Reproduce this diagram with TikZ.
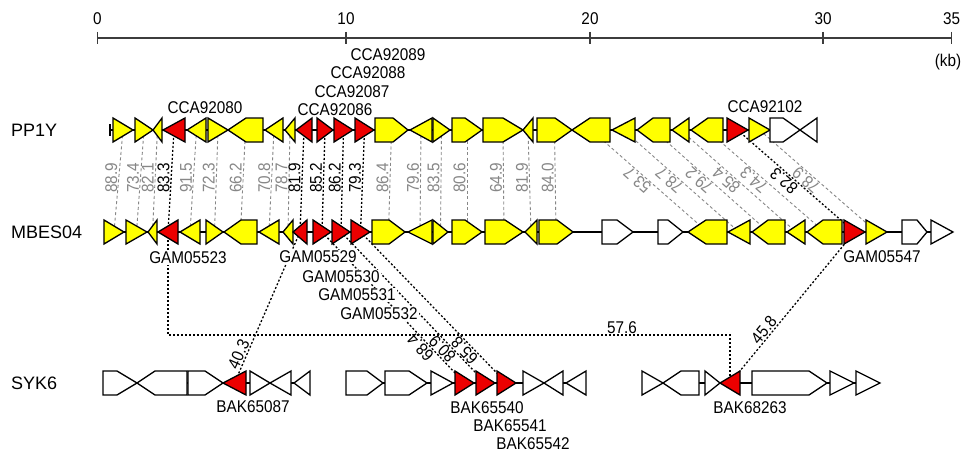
\documentclass[tikz,border=0pt]{standalone}
\usepackage{fontspec}
\setmainfont{Liberation Sans}[FakeStretch=0.9]
\newfontfamily\rowfont{Liberation Sans}
\usetikzlibrary{calc}
\pgfdeclarelayer{bg}
\pgfdeclarelayer{paper}
\pgfsetlayers{paper,bg,main}
\definecolor{gyel}{RGB}{255,255,0}
\definecolor{gred}{RGB}{236,0,0}
\definecolor{lgray}{RGB}{135,135,135}
\definecolor{bargray}{RGB}{60,60,60}
\newcommand\rowy{130}
% right-pointing gene: name, x1, x2, body end, fill
\newcommand\geneR[5]{\filldraw[genebox,fill=#5] (#2,\rowy-12) -- (#4,\rowy-12) -- (#3,\rowy) -- (#4,\rowy+12) -- (#2,\rowy+12) -- cycle;
  \coordinate (#1) at ({(#2+#3)/2},\rowy);}
% left-pointing gene: name, x1 (tip), x2, body start, fill
\newcommand\geneL[5]{\filldraw[genebox,fill=#5] (#3,\rowy-12) -- (#4,\rowy-12) -- (#2,\rowy) -- (#4,\rowy+12) -- (#3,\rowy+12) -- cycle;
  \coordinate (#1) at ({(#2+#3)/2},\rowy);}
\begin{document}
\begin{tikzpicture}[x=1pt,y=-1pt,
  genebox/.style={draw=black,line width=1.3pt,line join=miter},
  backbone/.style={draw=black,line width=1.2pt},
  gline/.style={draw=lgray,line width=0.9pt,dash pattern=on 3pt off 2.5pt},
  bline/.style={draw=black,line width=1.3pt,dash pattern=on 2pt off 2pt},
  glab/.style={font=\fontsize{17}{17}\selectfont,fill=white,inner sep=1pt},
  clab/.style={font=\fontsize{17}{17}\selectfont,inner sep=1pt},
  pct/.style={font=\fontsize{17}{17}\selectfont,inner sep=1pt,anchor=south},
  rowlab/.style={font=\rowfont\fontsize{18}{18}\selectfont,anchor=west,inner sep=0pt},
  scl/.style={font=\fontsize{17}{17}\selectfont,inner sep=0pt}]
\useasboundingbox (0,0) rectangle (969,452);
\begin{pgfonlayer}{paper}
\fill[white] (0,0) rectangle (969,452);
\end{pgfonlayer}
% ---------------- scale bar
\coordinate (t0) at (97.5,38);
\coordinate (t10) at (346,38);
\coordinate (t20) at (590,38);
\coordinate (t30) at (823,38);
\coordinate (t35) at (951.5,38);
\draw[bargray,line width=1.2pt] (t0) -- (t35);
\foreach \t/\l in {t0/0,t10/10,t20/20,t30/30,t35/35}{
  \draw[bargray,line width=1.2pt] ($(\t)+(0,-6)$) -- ($(\t)+(0,6)$);
  \node[scl] (s\l) at ($(\t)+(0,-19)$) {\l};
}
\node[scl] (kb) at (948,62) {(kb)};
% ---------------- row labels
\node[rowlab] (rP) at (11,130) {PP1Y};
\node[rowlab] (rM) at (11,232) {MBES04};
\node[rowlab] (rS) at (11,383) {SYK6};
% ---------------- PP1Y
\renewcommand\rowy{130}
\draw[backbone] (110,130) -- (817,130);
\draw[backbone] (110,124) -- (110,136);
\geneR{P1}{113}{133}{113}{gyel}
\geneR{P2}{135}{153}{135}{gyel}
\geneL{P3}{153}{162}{162}{gyel}
\geneL{P4}{163}{185}{185}{gred}
\geneL{P5}{187}{206}{206}{gyel}
\geneR{P6}{208}{228}{208}{gyel}
\geneL{P7}{228}{263}{246}{gyel}
\geneL{P8}{265}{283}{283}{gyel}
\geneL{P9}{285}{295}{295}{gyel}
\geneL{P10}{296}{312}{312}{gred}
\geneR{P11}{317}{333}{317}{gred}
\geneR{P12}{334}{353}{334}{gred}
\geneR{P13}{355}{374}{355}{gred}
\geneR{P14}{375}{408}{393}{gyel}
\geneL{P15}{410}{432}{432}{gyel}
\geneR{P16}{433}{450}{433}{gyel}
\geneR{P17}{452}{482}{465}{gyel}
\geneR{P18}{483}{523}{503}{gyel}
\geneL{P19}{523}{533}{533}{gyel}
\geneR{P20}{537}{572}{555}{gyel}
\geneL{P21}{572}{610}{590}{gyel}
\geneL{P22}{612}{635}{635}{gyel}
\geneL{P23}{637}{670}{653}{gyel}
\geneL{P24}{672}{689}{689}{gyel}
\geneL{P25}{691}{723}{708}{gyel}
\geneR{P26}{727}{748}{727}{gred}
\geneR{P27}{749}{770}{749}{gyel}
\geneR{P28}{770}{800}{783}{white}
\geneL{P29}{800}{817}{817}{white}
% ---------------- MBES04
\renewcommand\rowy{232}
\draw[backbone] (104,232) -- (953,232);
\geneR{M1}{104}{124}{104}{gyel}
\geneR{M2}{126}{147}{126}{gyel}
\geneL{M3}{148}{157}{157}{gyel}
\geneL{M4}{158}{178}{178}{gred}
\geneL{M5}{180}{200}{200}{gyel}
\geneR{M6}{206}{223}{206}{gyel}
\geneL{M7}{224}{257}{241}{gyel}
\geneL{M8}{259}{279}{279}{gyel}
\geneL{M9}{283}{293}{293}{gyel}
\geneL{M10}{293}{307}{307}{gred}
\geneR{M11}{313}{331}{313}{gred}
\geneR{M12}{332}{350}{332}{gred}
\geneR{M13}{351}{370}{351}{gred}
\geneR{M14}{372}{405}{389}{gyel}
\geneL{M15}{408}{432}{432}{gyel}
\geneR{M16}{433}{448}{433}{gyel}
\geneR{M17}{452}{482}{465}{gyel}
\geneR{M18}{485}{523}{505}{gyel}
\geneL{M19}{525}{537}{537}{gyel}
\geneR{M20}{539}{573}{557}{gyel}
\geneR{W1}{602}{633}{617}{white}
\geneR{W2}{658}{683}{668}{white}
\geneL{M21}{688}{727}{706}{gyel}
\geneL{M22}{728}{750}{750}{gyel}
\geneL{M23}{752}{785}{768}{gyel}
\geneL{M24}{787}{805}{805}{gyel}
\geneL{M25}{807}{842}{823}{gyel}
\geneR{M26}{844}{865}{844}{gred}
\geneR{M27}{866}{887}{866}{gyel}
\geneR{W3}{902}{927}{917}{white}
\geneR{W4}{931}{953}{931}{white}
% ---------------- SYK6
\renewcommand\rowy{383}
\draw[backbone] (103,383) -- (310,383);
\draw[backbone] (346,383) -- (586,383);
\draw[backbone] (642,383) -- (880,383);
\geneR{S1}{103}{137}{117}{white}
\geneL{S2}{137}{187}{155}{white}
\geneR{S3}{188}{223}{205}{white}
\geneL{S4}{223}{246}{246}{gred}
\geneR{S5}{250}{270}{250}{white}
\geneL{S6}{270}{291}{291}{white}
\geneL{S7}{294}{310}{310}{white}
\geneR{S8}{346}{383}{367}{white}
\geneR{S9}{385}{427}{409}{white}
\geneR{S10}{431}{453}{431}{white}
\geneR{S11}{455}{474}{455}{gred}
\geneR{S12}{476}{495}{476}{gred}
\geneR{S13}{497}{516}{497}{gred}
\geneR{S14}{523}{544}{523}{white}
\geneL{S15}{544}{563}{563}{white}
\geneL{S16}{566}{586}{586}{white}
\geneR{S17}{642}{663}{642}{white}
\geneL{S18}{663}{699}{681}{white}
\geneR{S19}{705}{720}{705}{white}
\geneL{S20}{720}{740}{740}{gred}
\geneR{S21}{752}{827}{809}{white}
\geneR{S22}{830}{854}{830}{white}
\geneR{S23}{856}{880}{856}{white}
% ---------------- connectors (behind genes)
\begin{pgfonlayer}{bg}
\foreach \i/\v in {1/88.9,2/73.4,3/82.1,5/91.5,6/72.3,7/66.2,8/70.8,9/78.7,14/86.4,15/79.6,16/83.5,17/80.6,18/64.9,19/81.9,20/84.0}{
  \draw[gline] (P\i) -- node[pct,rotate=90,pos=0.47,text=lgray] (v\i) {\v} (M\i);
}
\foreach \i/\v in {4/83.3,10/81.9,11/85.2,12/86.2,13/79.3}{
  \draw[bline] (P\i) -- node[pct,rotate=90,pos=0.47] (v\i) {\v} (M\i);
}
\foreach \i/\v in {21/53.7,22/78.7,23/79.2,24/85.4,25/74.3,27/78.9}{
  \draw[gline] (P\i) -- node[pct,rotate=138.8,pos=0.44,text=lgray] (v\i) {\v} (M\i);
}
\draw[bline] (P26) -- node[pct,rotate=139,pos=0.44] (v26) {82.3} (M26);
% to SYK6
\draw[bline] (M10) -- node[pct,rotate=66,pos=0.83] (w1) {40.3} (S4);
\draw[bline] (M4) -- ++(0,103) -| node[pct,pos=0.404] (w2) {57.6} (S20);
\draw[bline] (M11) -- node[pct,rotate=133.4,pos=0.73] (w3) {68.4} (S11);
\draw[bline] (M12) -- node[pct,rotate=133.8,pos=0.74] (w4) {80.9} (S12);
\draw[bline] (M13) -- node[pct,rotate=134.2,pos=0.75] (w5) {65.8} (S13);
\draw[bline] (M26) -- node[pct,rotate=50.6,pos=0.68] (w6) {45.8} (S20);
\end{pgfonlayer}
% ---------------- gene labels
\node[clab] (lc80) at (205,108) {CCA92080};
\node[clab] (lc86) at (335,110) {CCA92086};
\node[clab] (lc87) at (352,92) {CCA92087};
\node[clab] (lc88) at (368,73) {CCA92088};
\node[clab] (lc89) at (388,55) {CCA92089};
\node[clab] (lc102) at (765,107) {CCA92102};
\node[glab] (lg23) at (188,258) {GAM05523};
\node[glab] (lg29) at (318,257) {GAM05529};
\node[glab] (lg30) at (341,277) {GAM05530};
\node[glab] (lg31) at (357,295) {GAM05531};
\node[glab] (lg32) at (379,314) {GAM05532};
\node[glab] (lg47) at (882,257) {GAM05547};
\node[glab] (lb87) at (253,407) {BAK65087};
\node[glab] (lb40) at (487,408) {BAK65540};
\node[glab] (lb41) at (510,426) {BAK65541};
\node[glab] (lb42) at (533,444) {BAK65542};
\node[glab] (lb63) at (750,408) {BAK68263};
\end{tikzpicture}
\end{document}
